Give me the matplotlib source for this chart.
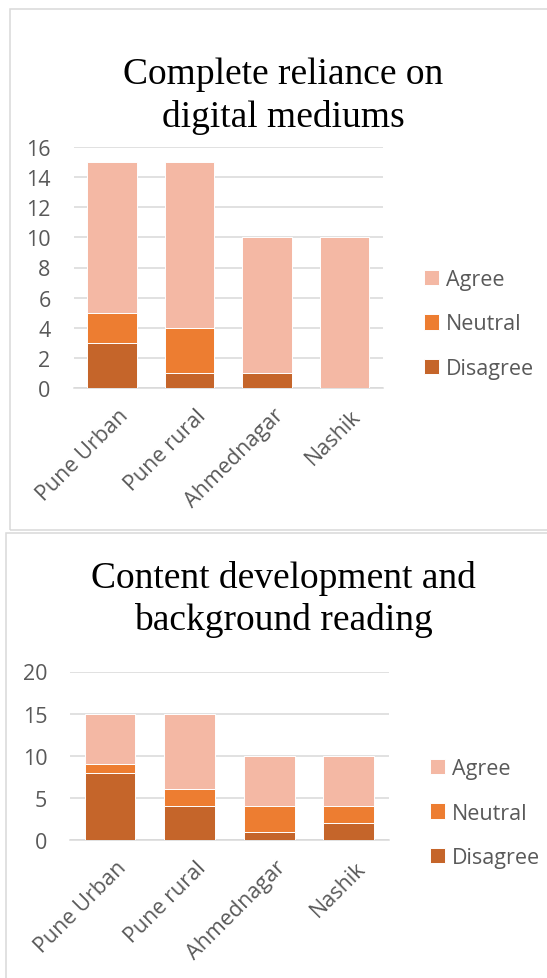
import matplotlib
matplotlib.use("Agg")
import matplotlib.pyplot as plt
import matplotlib.transforms as mtransforms
from matplotlib.patches import Rectangle

# ---- data -------------------------------------------------------------
districts = ["Pune Urban", "Pune rural", "Ahmednagar", "Nashik"]
series_names = ["Disagree", "Neutral", "Agree"]

reliance_disagree = [3, 1, 1, 0]
reliance_neutral = [2, 3, 0, 0]
reliance_agree = [10, 11, 9, 10]
reliance_ticks = [0, 2, 4, 6, 8, 10, 12, 14, 16]

content_disagree = [8, 4, 1, 2]
content_neutral = [1, 2, 3, 2]
content_agree = [6, 9, 6, 6]
content_ticks = [0, 5, 10, 15, 20]

# ---- style ------------------------------------------------------------
COLORS = {"Disagree": "#C5652A", "Neutral": "#ED7D31", "Agree": "#F4B8A4"}
GRID = "#D9D9D9"
TEXT = "#595959"
SANS = ["Open Sans", "DejaVu Sans"]
SERIF = ["Liberation Serif", "DejaVu Serif"]
LABEL_SIZE = 15.5

W, H = 547, 979
fig = plt.figure(figsize=(W / 100, H / 100), dpi=100)
fig.patch.set_facecolor("white")


def px_axes(left, right, top, bottom):
    return fig.add_axes([left / W, 1 - bottom / H, (right - left) / W, (bottom - top) / H])


def draw_panel(ax, disagree, neutral, agree, ticks, title_lines, title_baselines,
               legend_left, legend_cy):
    x = list(range(len(districts)))
    width = 0.64
    bottoms = [0] * len(x)
    handles = {}
    for name, vals in zip(series_names, [disagree, neutral, agree]):
        bars = ax.bar(x, vals, width, bottom=bottoms, color=COLORS[name],
                      edgecolor="white", linewidth=0.7, label=name, zorder=3)
        handles[name] = bars
        bottoms = [b + v for b, v in zip(bottoms, vals)]

    ax.set_xlim(-0.5, len(x) - 0.5)
    ax.set_ylim(ticks[0], ticks[-1])
    ax.set_yticks(ticks)
    ax.set_yticklabels([str(t) for t in ticks], fontfamily=SANS,
                       fontsize=LABEL_SIZE, color=TEXT)
    ax.yaxis.grid(True, color=GRID, linewidth=1.1, zorder=0)
    ax.set_axisbelow(True)
    for s in ["left", "right", "top"]:
        ax.spines[s].set_visible(False)
    ax.spines["bottom"].set_color(GRID)
    ax.spines["bottom"].set_linewidth(1.1)
    ax.tick_params(axis="y", length=0, pad=16.5)
    ax.tick_params(axis="x", length=0, pad=12)

    ax.set_xticks(x)
    labels = ax.set_xticklabels(districts, fontfamily=SANS, fontsize=LABEL_SIZE,
                                color=TEXT, rotation=45, ha="right", va="top",
                                rotation_mode="anchor")
    shift = mtransforms.ScaledTranslation(6 / 100, 0, fig.dpi_scale_trans)
    for lab in labels:
        lab.set_transform(lab.get_transform() + shift)

    for line, base in zip(title_lines, title_baselines):
        fig.text(283 / W, 1 - base / H, line, ha="center", va="baseline",
                 fontfamily=SERIF, fontsize=27, color="black")

    order = ["Agree", "Neutral", "Disagree"]
    fig.legend([handles[n] for n in order], order, loc="center left",
               bbox_to_anchor=(legend_left / W, 1 - legend_cy / H),
               bbox_transform=fig.transFigure, frameon=False,
               prop={"family": SANS, "size": LABEL_SIZE}, labelcolor=TEXT,
               handlelength=0.7, handleheight=0.7, handletextpad=0.3,
               labelspacing=1.08, borderpad=0, borderaxespad=0)


# panel frames
fig.add_artist(Rectangle((9.5 / W, 1 - 530.5 / H), (W + 10) / W, 521 / H,
                         transform=fig.transFigure, fill=False,
                         edgecolor=GRID, linewidth=1.1))
fig.add_artist(Rectangle((6 / W, 1 - 990 / H), (W + 10) / W, (990 - 533.5) / H,
                         transform=fig.transFigure, fill=False,
                         edgecolor=GRID, linewidth=1.1))

ax1 = px_axes(73.5, 383, 148, 389)
draw_panel(ax1, reliance_disagree, reliance_neutral, reliance_agree, reliance_ticks,
           ["Complete reliance on", "digital mediums"], [83.5, 127],
           424, 325)

ax2 = px_axes(70.2, 388.6, 672.5, 841)
draw_panel(ax2, content_disagree, content_neutral, content_agree, content_ticks,
           ["Content development and", "background reading"], [588, 630],
           430, 814)

fig.savefig("out.png", dpi=100, facecolor="white")
